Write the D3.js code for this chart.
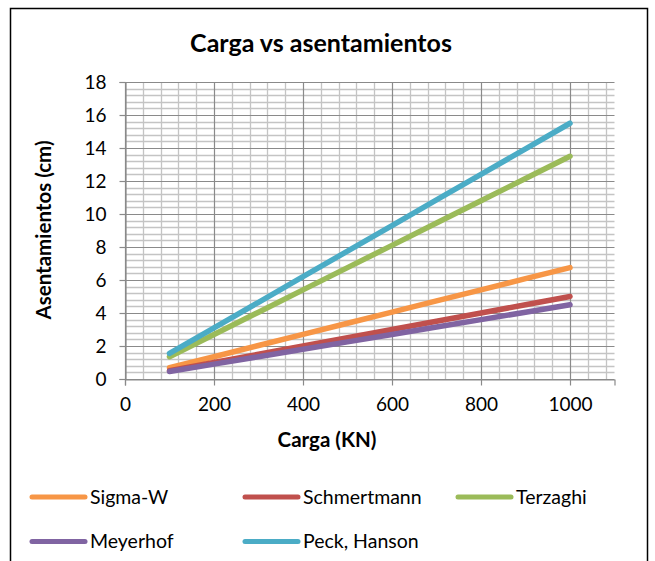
<!DOCTYPE html>
<html>
<head>
<meta charset="utf-8">
<script src="https://cdn.jsdelivr.net/npm/d3@7/dist/d3.min.js"></script>
<style>
  html, body { margin: 0; padding: 0; background: #fff; }
  svg { display: block; }
  text { font-family: Lato, "Open Sans", sans-serif; fill: #000; }
</style>
</head>
<body>
<svg id="chart" width="655" height="561"></svg>
<script>
// ---- data ----
const cargas = [100, 200, 300, 400, 500, 600, 700, 800, 900, 1000];
const seriesNames = ["Sigma-W", "Schmertmann", "Terzaghi", "Meyerhof", "Peck, Hanson"];
const sigmaW      = [0.68, 1.35, 2.03, 2.70, 3.38, 4.05, 4.73, 5.40, 6.08, 6.75];
const schmertmann = [0.50, 1.00, 1.50, 2.00, 2.50, 3.00, 3.50, 4.00, 4.50, 5.00];
const terzaghi    = [1.35, 2.70, 4.05, 5.40, 6.75, 8.10, 9.45, 10.80, 12.15, 13.50];
const meyerhof    = [0.45, 0.90, 1.35, 1.80, 2.25, 2.70, 3.15, 3.60, 4.05, 4.50];
const peckHanson  = [1.55, 3.10, 4.65, 6.20, 7.75, 9.30, 10.85, 12.40, 13.95, 15.50];
const xTicks = [0, 200, 400, 600, 800, 1000];
const yTicks = [0, 2, 4, 6, 8, 10, 12, 14, 16, 18];
const colors = ["#F79646", "#C0504D", "#9BBB59", "#8064A2", "#4BACC6"];
const titleText = "Carga vs asentamientos";
const xTitle = "Carga (KN)";
const yTitle = "Asentamientos (cm)";

const allValues = [sigmaW, schmertmann, terzaghi, meyerhof, peckHanson];

// ---- layout ----
const svg = d3.select("#chart");
const x = d3.scaleLinear().domain([0, 1100]).range([125, 614.5]);
const y = d3.scaleLinear().domain([0, 18]).range([379, 82]);

// chart border
svg.append("rect")
  .attr("x", 10.5).attr("y", 8.5).attr("width", 637).attr("height", 570)
  .attr("fill", "#fff").attr("stroke", "#000").attr("stroke-width", 1.5);

// minor gridlines
const xMinor = d3.range(0, 1100 + 1, 40).filter(v => v % 200 !== 0);
const yMinor = d3.range(0, 18.001, 0.4).filter(v => Math.abs(v / 2 - Math.round(v / 2)) > 1e-6);
const grid = svg.append("g");
grid.selectAll(".xm").data(xMinor).join("line")
  .attr("x1", d => Math.round(x(d)) + 0.5).attr("x2", d => Math.round(x(d)) + 0.5)
  .attr("y1", y(18)).attr("y2", y(0))
  .attr("stroke", "#c4c4c4").attr("stroke-width", 1.3);
grid.selectAll(".ym").data(yMinor).join("line")
  .attr("x1", x(0)).attr("x2", x(1100))
  .attr("y1", d => Math.round(y(d)) + 0.5).attr("y2", d => Math.round(y(d)) + 0.5)
  .attr("stroke", "#c4c4c4").attr("stroke-width", 1.3);

// major gridlines
grid.selectAll(".xM").data(xTicks).join("line")
  .attr("x1", d => Math.round(x(d)) + 0.5).attr("x2", d => Math.round(x(d)) + 0.5)
  .attr("y1", y(18)).attr("y2", y(0))
  .attr("stroke", "#8a8a8a").attr("stroke-width", 1.2);
grid.selectAll(".yM").data(yTicks).join("line")
  .attr("x1", x(0)).attr("x2", x(1100))
  .attr("y1", d => Math.round(y(d)) + 0.5).attr("y2", d => Math.round(y(d)) + 0.5)
  .attr("stroke", "#8a8a8a").attr("stroke-width", 1.2);

// axes
const xAxis = d3.axisBottom(x).tickValues(xTicks).tickFormat(d3.format("d")).tickSize(6).tickPadding(12);
const yAxis = d3.axisLeft(y).tickValues(yTicks).tickFormat(d3.format("d")).tickSize(6).tickPadding(13);
const gx = svg.append("g").attr("transform", `translate(0,${Math.round(y(0)) + 0.5})`).call(xAxis);
const gy = svg.append("g").attr("transform", `translate(${Math.round(x(0)) + 0.5},0)`).call(yAxis);
[gx, gy].forEach(g => {
  g.select(".domain").attr("stroke", "#8a8a8a").attr("stroke-width", 1.2);
  g.selectAll(".tick line").attr("stroke", "#8a8a8a").attr("stroke-width", 1.2);
  g.selectAll(".tick text").attr("font-family", "Lato, sans-serif").attr("font-size", 19).attr("fill", "#000");
});

// lines
const line = d3.line().x((d, i) => x(cargas[i])).y(d => y(d));
svg.append("g").selectAll("path").data(allValues).join("path")
  .attr("d", d => line(d))
  .attr("fill", "none")
  .attr("stroke", (d, i) => colors[i])
  .attr("stroke-width", 5.5)
  .attr("stroke-linecap", "round")
  .attr("stroke-linejoin", "round");

// titles
svg.append("text").attr("x", 321).attr("y", 52)
  .attr("text-anchor", "middle").attr("font-size", 25).attr("font-weight", "bold")
  .text(titleText);
svg.append("text").attr("x", 327).attr("y", 447)
  .attr("text-anchor", "middle").attr("font-size", 20.5).attr("font-weight", "bold")
  .text(xTitle);
svg.append("text").attr("transform", `translate(51,230) rotate(-90)`)
  .attr("text-anchor", "middle").attr("font-size", 20.5).attr("font-weight", "bold")
  .text(yTitle);

// legend
const legCols = [32, 245, 458];
const legRows = [497, 541.5];
const leg = svg.append("g").selectAll("g").data(seriesNames).join("g")
  .attr("transform", (d, i) => `translate(${legCols[i % 3]},${legRows[Math.floor(i / 3)]})`);
leg.append("line").attr("x1", 0).attr("x2", 53).attr("y1", 0).attr("y2", 0)
  .attr("stroke", (d, i) => colors[i]).attr("stroke-width", 5).attr("stroke-linecap", "round");
leg.append("text").attr("x", 58).attr("y", 0).attr("dy", "0.35em")
  .attr("font-size", 19.5).text(d => d);
</script>
</body>
</html>
